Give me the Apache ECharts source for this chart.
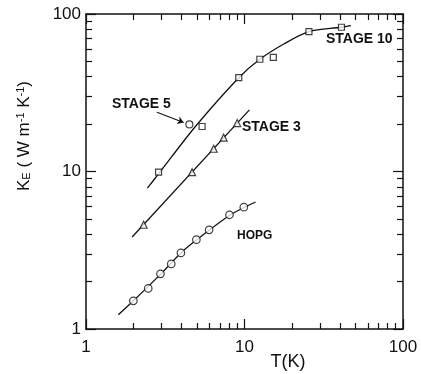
<!DOCTYPE html>
<html>
<head>
<meta charset="utf-8">
<script src="https://cdn.jsdelivr.net/npm/echarts@6/dist/echarts.min.js"></script>
<style>
  html, body { margin: 0; padding: 0; background: #fff; }
  #chart { width: 421px; height: 374px; }
</style>
</head>
<body>
<div id="chart"></div>
<script>
// Electronic thermal conductivity K_E versus temperature (log-log)
var stage10T = [2.87, 5.4, 9.2, 12.5, 15.2, 25.5, 40.9];
var stage10K = [9.9, 19.3, 39.4, 51.6, 53.1, 77.3, 82.4];
var stage10FitT = [2.44, 2.87, 4.9, 9.2, 12.5, 17.7, 25.5, 40.9, 46.9];
var stage10FitK = [7.85, 9.66, 19.3, 39.4, 51.6, 64.5, 77.3, 82.4, 84.5];

var stage5T = [4.49];
var stage5K = [19.9];

var stage3T = [2.31, 4.67, 6.39, 7.39, 8.99];
var stage3K = [4.59, 9.9, 13.95, 16.4, 20.3];
var stage3FitT = [1.955, 10.74];
var stage3FitK = [3.84, 24.6];

var hopgT = [1.99, 2.47, 2.95, 3.45, 3.97, 4.97, 5.98, 8.04, 9.9];
var hopgK = [1.51, 1.81, 2.24, 2.59, 3.04, 3.69, 4.26, 5.31, 5.94];
var hopgFitT = [1.6, 1.99, 2.97, 3.97, 4.97, 8.04, 11.74];
var hopgFitK = [1.23, 1.51, 2.24, 3.04, 3.67, 5.26, 6.4];

var majorTicks = [1, 10, 100];
var minorTicks = [2, 3, 4, 5, 6, 7, 8, 9, 20, 30, 40, 50, 60, 70, 80, 90];

// arrow pointing at the stage 5 point
var arrowFrom = [2.80, 23.8];
var arrowTo = [4.13, 20.5];

function pairs(xs, ys) {
  return xs.map(function (x, i) { return [x, ys[i]]; });
}

var ink = '#111';
var tickFont = { fontFamily: 'Liberation Sans', fontSize: 17, color: ink };

function logAxis(pos, showLine, showLabel, ticks, len, margin) {
  return {
    type: 'log', logBase: 10, min: 1, max: 100, position: pos,
    axisLine: { show: showLine, lineStyle: { color: ink, width: 1.5 } },
    axisTick: { show: true, inside: true, length: len, customValues: ticks,
                lineStyle: { color: ink, width: 1.2 } },
    axisLabel: Object.assign({ show: showLabel, margin: margin || 8, customValues: majorTicks,
                formatter: function (v) { return String(v); } }, tickFont),
    splitLine: { show: false },
    minorTick: { show: false }
  };
}

var chart = echarts.init(document.getElementById('chart'), null, { renderer: 'canvas' });

var markerStyle = { color: '#fff', borderColor: ink, borderWidth: 1.2 };
var fitStyle = { color: ink, width: 1.3 };

chart.setOption({
  animation: false,
  backgroundColor: '#fff',
  grid: { left: 86, top: 14, right: 18, bottom: 45, containLabel: false },
  xAxis: [
    logAxis('bottom', true, true, majorTicks, 10, 10),
    logAxis('bottom', false, false, minorTicks, 6),
    logAxis('top', true, false, majorTicks, 10),
    logAxis('top', false, false, minorTicks, 6)
  ],
  yAxis: [
    logAxis('left', true, true, majorTicks, 10, 5),
    logAxis('left', false, false, minorTicks, 6),
    logAxis('right', true, false, majorTicks, 10),
    logAxis('right', false, false, minorTicks, 6)
  ],
  series: [
    { type: 'line', data: pairs(stage10FitT, stage10FitK), smooth: 0.3, showSymbol: false,
      lineStyle: fitStyle, z: 2 },
    { type: 'line', data: pairs(stage3FitT, stage3FitK), showSymbol: false, lineStyle: fitStyle, z: 2 },
    { type: 'line', data: pairs(hopgFitT, hopgFitK), smooth: 0.3, showSymbol: false,
      lineStyle: fitStyle, z: 2 },
    { type: 'scatter', data: pairs(stage10T, stage10K), symbol: 'rect', symbolSize: 6,
      itemStyle: markerStyle, z: 3 },
    { type: 'scatter', data: pairs(stage5T, stage5K), symbol: 'circle', symbolSize: 7,
      itemStyle: markerStyle, z: 3,
      markLine: {
        silent: true, symbol: ['none', 'arrow'], symbolSize: 6,
        lineStyle: { color: ink, width: 1.1, type: 'solid' }, label: { show: false },
        data: [[{ coord: arrowFrom }, { coord: arrowTo }]]
      } },
    { type: 'scatter', data: pairs(stage3T, stage3K), symbol: 'triangle', symbolSize: 7,
      itemStyle: markerStyle, z: 3 },
    { type: 'scatter', data: pairs(hopgT, hopgK), symbol: 'circle', symbolSize: 7.5,
      itemStyle: markerStyle, z: 3 }
  ],
  graphic: [
    { type: 'text', left: 326, top: 32, style: { text: 'STAGE 10', font: 'bold 14px "Liberation Sans"', fill: ink } },
    { type: 'text', left: 112, top: 97, style: { text: 'STAGE 5', font: 'bold 14px "Liberation Sans"', fill: ink } },
    { type: 'text', left: 242, top: 120, style: { text: 'STAGE 3', font: 'bold 14px "Liberation Sans"', fill: ink } },
    { type: 'text', left: 237, top: 230, style: { text: 'HOPG', font: 'bold 12px "Liberation Sans"', fill: ink } },
    { type: 'text', x: 288, y: 362, style: { text: 'T(K)', font: '18px "Liberation Sans"', fill: ink, align: 'center', verticalAlign: 'middle' } },
    { type: 'text', x: 24, y: 136, rotation: Math.PI / 2,
      style: {
        text: 'K{sub|E} ( W m{sup|-1} K{sup|-1})',
        font: '17px "Liberation Sans"', fill: ink, align: 'center', verticalAlign: 'middle',
        rich: {
          sub: { fontSize: 11, fontFamily: 'Liberation Sans', fill: ink, verticalAlign: 'bottom', padding: [6, 0, 0, 0] },
          sup: { fontSize: 11, fontFamily: 'Liberation Sans', fill: ink, verticalAlign: 'top', padding: [0, 0, 6, 0] }
        }
      } }
  ]
});
</script>
</body>
</html>
